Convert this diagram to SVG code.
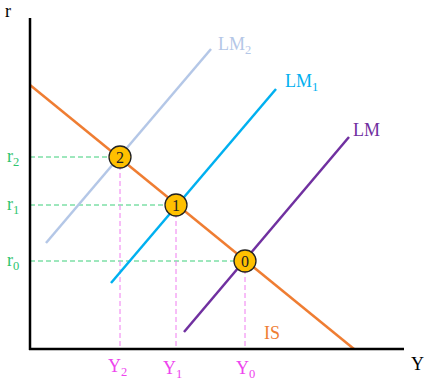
<svg xmlns="http://www.w3.org/2000/svg" width="425" height="382" viewBox="0 0 425 382">
<style>
text{font-family:"Liberation Serif","DejaVu Serif",serif;font-size:18px}
.sub{font-size:12.5px}
.g{fill:#2ec46e}
.p{fill:#ee44ee}
.hd{stroke:#3ccf7a;stroke-width:1;stroke-dasharray:5,3;fill:none}
.vd{stroke:#f07cf0;stroke-width:1;stroke-dasharray:5,3;fill:none}
.pt circle{fill:#ffc000;stroke:#222;stroke-width:1.3}
.pt text{font-size:16px;fill:#222;text-anchor:middle}
</style>
<g id="guides">
<line class="hd" x1="30" y1="157" x2="120" y2="157"/>
<line class="hd" x1="30" y1="205" x2="176" y2="205"/>
<line class="hd" x1="30" y1="261" x2="245" y2="261"/>
<line class="vd" x1="120" y1="157" x2="120" y2="349"/>
<line class="vd" x1="176" y1="205" x2="176" y2="349"/>
<line class="vd" x1="245" y1="261" x2="245" y2="349"/>
</g>
<g id="curves" fill="none" stroke-width="2.5">
<line id="LM2" x1="46" y1="243" x2="211" y2="49" stroke="#b4c7e7"/>
<line id="LM1" x1="111" y1="283" x2="276" y2="89" stroke="#00b0f0"/>
<line id="LM" x1="184" y1="332" x2="349" y2="137" stroke="#7030a0"/>
<line id="IS" x1="30" y1="85" x2="354" y2="349" stroke="#ef7d32"/>
</g>
<g id="axes" stroke="#000" stroke-width="2.5">
<line x1="30" y1="18" x2="30" y2="350"/>
<line x1="29" y1="349" x2="404" y2="349"/>
</g>
<g id="labels">
<text x="5" y="17">r</text>
<text x="411" y="370">Y</text>
<text x="264" y="339" fill="#ef7d32">IS</text>
<text x="218" y="50" fill="#b4c7e7">LM<tspan class="sub" dy="4">2</tspan></text>
<text x="285" y="87" fill="#00b0f0">LM<tspan class="sub" dy="4">1</tspan></text>
<text x="353" y="136" fill="#7030a0">LM</text>
<text class="g" x="7" y="162">r<tspan class="sub" dy="4">2</tspan></text>
<text class="g" x="7" y="210">r<tspan class="sub" dy="4">1</tspan></text>
<text class="g" x="7" y="266">r<tspan class="sub" dy="4">0</tspan></text>
<text class="p" x="108" y="372">Y<tspan class="sub" dy="4">2</tspan></text>
<text class="p" x="163" y="374">Y<tspan class="sub" dy="4">1</tspan></text>
<text class="p" x="236" y="374">Y<tspan class="sub" dy="4">0</tspan></text>
</g>
<g id="p2" class="pt"><circle cx="120" cy="157" r="11"/><text x="120" y="162.5">2</text></g>
<g id="p1" class="pt"><circle cx="176" cy="205" r="11"/><text x="176" y="210.5">1</text></g>
<g id="p0" class="pt"><circle cx="245" cy="261" r="11"/><text x="245" y="266.5">0</text></g>
</svg>
